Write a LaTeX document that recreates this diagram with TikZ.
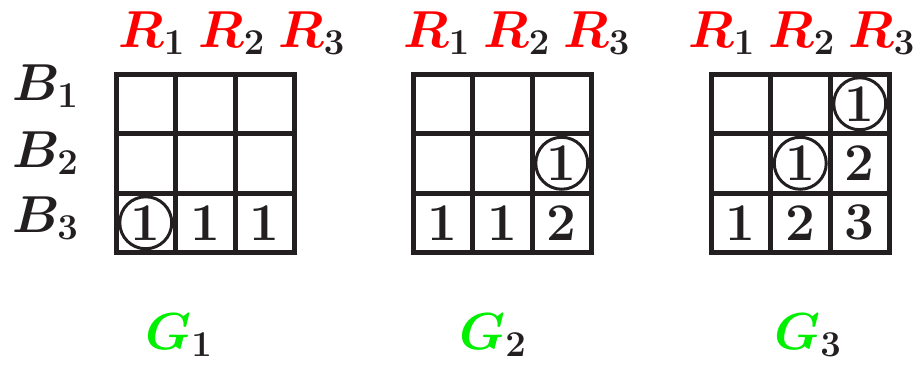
\RequirePackage{fix-cm}
\documentclass[tikz,border=0pt]{standalone}
\usepackage{xcolor}
\definecolor{ink}{RGB}{35,31,32}
\definecolor{lblred}{RGB}{255,0,0}
\definecolor{lblgreen}{RGB}{0,240,0}
\begin{document}
\begin{tikzpicture}[x=1pt,y=-1pt,
  bigfont/.style={font=\fontsize{52}{60}\selectfont\boldmath, text=ink, inner sep=0pt},
  label/.style={bigfont, anchor=base west},
  digit/.style={bigfont, font=\fontsize{53}{60}\selectfont\bfseries, anchor=center},
  gridline/.style={draw=ink, line width=5pt, line cap=rect},
  ring/.style={draw=ink, line width=3pt}]
\useasboundingbox (0,0) rectangle (917,365);
\def\cs{59.5}
% grids
\foreach \gx/\gi in {116/1,413/2,711/3}{
  \foreach \k in {0,1,2,3}{
    \draw[gridline] ({\gx+\k*\cs},74) -- ({\gx+\k*\cs},{74+3*\cs});
    \draw[gridline] (\gx,{74+\k*\cs}) -- ({\gx+3*\cs},{74+\k*\cs});
  }
}
% column labels
\foreach \lx/\gi in {118/1,403/2,688/3}{
  \node[label] (r1g\gi) at (\lx,47) {${\color{lblred}R}_1$};
  \node[label] (r2g\gi) at ({\lx+80},47) {${\color{lblred}R}_2$};
  \node[label] (r3g\gi) at ({\lx+160},47) {${\color{lblred}R}_3$};
}
% row labels
\node[label] (b1) at (12,100) {$B_1$};
\node[label] (b2) at (12,167) {$B_2$};
\node[label] (b3) at (12,232) {$B_3$};
% grid labels
\node[label] (g1) at (145,349) {${\color{lblgreen}G}_1$};
\node[label] (g2) at (459,349) {${\color{lblgreen}G}_2$};
\node[label] (g3) at (774,349) {${\color{lblgreen}G}_3$};
% cell contents: grid x, col, row, text, circled
\newcommand{\cellat}[5]{%
  \node[digit] (c#1#2#3) at ({#1+\cs/2+(#2-1)*\cs},{74+\cs/2+(#3-1)*\cs}) {#4};
  \ifnum#5=1 \draw[ring] (c#1#2#3.center) circle (26);\fi}
% G1
\cellat{116}{1}{3}{1}{1}
\cellat{116}{2}{3}{1}{0}
\cellat{116}{3}{3}{1}{0}
% G2
\cellat{413}{3}{2}{1}{1}
\cellat{413}{1}{3}{1}{0}
\cellat{413}{2}{3}{1}{0}
\cellat{413}{3}{3}{2}{0}
% G3
\cellat{711}{3}{1}{1}{1}
\cellat{711}{2}{2}{1}{1}
\cellat{711}{3}{2}{2}{0}
\cellat{711}{1}{3}{1}{0}
\cellat{711}{2}{3}{2}{0}
\cellat{711}{3}{3}{3}{0}
\end{tikzpicture}
\end{document}
